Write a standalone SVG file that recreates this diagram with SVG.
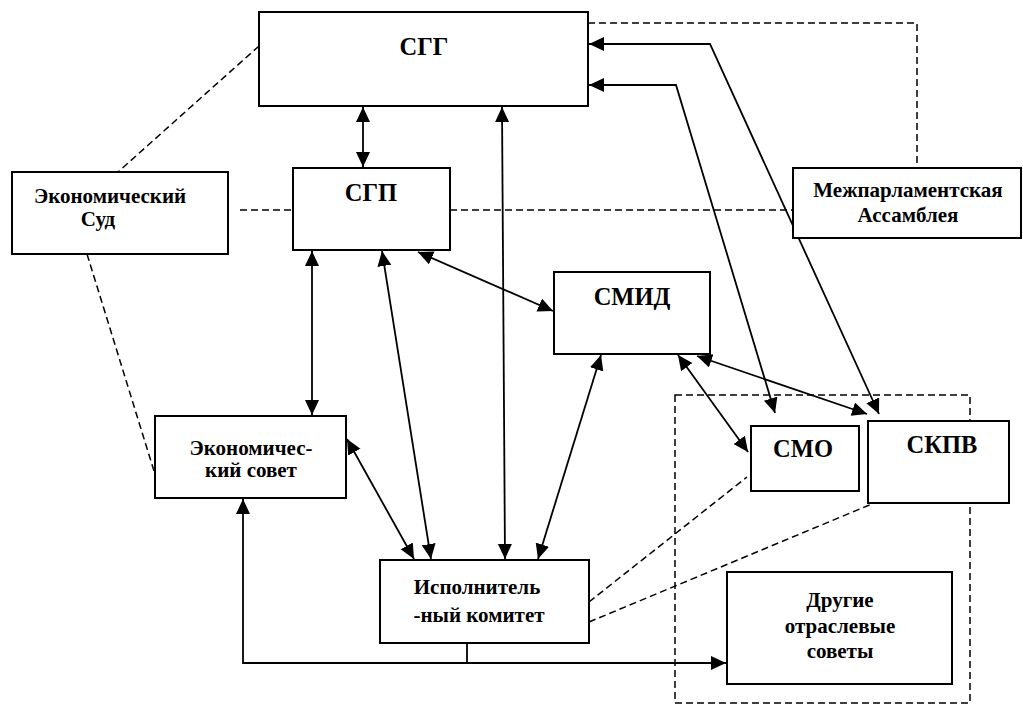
<svg xmlns="http://www.w3.org/2000/svg" width="1023" height="706" viewBox="0 0 1023 706">
<style>
.box{fill:#fff;stroke:#000;stroke-width:2}
.dash{fill:none;stroke:#000;stroke-width:1.5;stroke-dasharray:7 4}
.ln{fill:none;stroke:#000;stroke-width:1.8}
.t{font-family:"Liberation Serif","Times New Roman",serif;font-weight:bold;font-size:21px;text-anchor:middle;fill:#000}
.h{font-size:24.5px}
</style>
<defs>
<marker id="ah" markerUnits="userSpaceOnUse" markerWidth="17" markerHeight="15" refX="15" refY="7" orient="auto-start-reverse" viewBox="0 0 17 15">
<path d="M0,0 L15,7 L0,14 z" fill="#000"/>
</marker>
</defs>
<rect width="1023" height="706" fill="#fff"/>
<g id="dashed">
<rect class="dash" x="675" y="395" width="295" height="308"/>
<polyline class="dash" points="588,23 917,23 917,168"/>
<line class="dash" x1="259" y1="46" x2="118" y2="172"/>
<line class="dash" x1="87" y1="254" x2="154" y2="471"/>
<line class="dash" x1="240" y1="210" x2="293" y2="210"/>
<line class="dash" x1="450" y1="210" x2="793" y2="210"/>
<line class="dash" x1="589" y1="602" x2="747" y2="477"/>
<line class="dash" x1="589" y1="622" x2="879" y2="501"/>
</g>
<g id="connectors">
<line class="ln" x1="363" y1="107" x2="363" y2="167" marker-start="url(#ah)" marker-end="url(#ah)"/>
<line class="ln" x1="502" y1="107" x2="505" y2="559" marker-start="url(#ah)" marker-end="url(#ah)"/>
<line class="ln" x1="312" y1="251" x2="312" y2="415" marker-start="url(#ah)" marker-end="url(#ah)"/>
<line class="ln" x1="382" y1="251" x2="431" y2="559" marker-start="url(#ah)" marker-end="url(#ah)"/>
<line class="ln" x1="418" y1="252" x2="553" y2="311" marker-start="url(#ah)" marker-end="url(#ah)"/>
<line class="ln" x1="347" y1="439" x2="414" y2="559" marker-start="url(#ah)" marker-end="url(#ah)"/>
<line class="ln" x1="601" y1="355" x2="538" y2="559" marker-start="url(#ah)" marker-end="url(#ah)"/>
<line class="ln" x1="678" y1="355" x2="748" y2="452" marker-start="url(#ah)" marker-end="url(#ah)"/>
<line class="ln" x1="697" y1="356" x2="867" y2="414" marker-start="url(#ah)" marker-end="url(#ah)"/>
<polyline class="ln" points="589,44 710,44 879,414" marker-start="url(#ah)" marker-end="url(#ah)"/>
<polyline class="ln" points="589,85 676,85 775,413" marker-start="url(#ah)" marker-end="url(#ah)"/>
<polyline class="ln" points="243,499 243,663 726,663" marker-start="url(#ah)" marker-end="url(#ah)"/>
<line class="ln" x1="467" y1="643" x2="467" y2="663"/>
</g>
<g id="sgg"><rect class="box" x="259" y="12" width="329" height="94"/><text class="t h" x="424" y="55">СГГ</text></g>
<g id="ekon-sud"><rect class="box" x="12" y="172" width="216" height="82"/><text class="t" x="110" y="203">Экономический</text><text class="t" x="98" y="226">Суд</text></g>
<g id="sgp"><rect class="box" x="293" y="168" width="157" height="82"/><text class="t h" x="371" y="201">СГП</text></g>
<g id="mpa"><rect class="box" x="793" y="168" width="228" height="70"/><text class="t" x="908" y="197">Межпарламентская</text><text class="t" x="908" y="222">Ассамблея</text></g>
<g id="smid"><rect class="box" x="554" y="272" width="156" height="82"/><text class="t h" x="632" y="305">СМИД</text></g>
<g id="ekon-sovet"><rect class="box" x="155" y="416" width="191" height="82"/><text class="t" x="251" y="455">Экономичес-</text><text class="t" x="251" y="477">кий совет</text></g>
<g id="smo"><rect class="box" x="751" y="426" width="108" height="65"/><text class="t h" x="803" y="457">СМО</text></g>
<g id="skpv"><rect class="box" x="868" y="421" width="141" height="82"/><text class="t h" x="942" y="453">СКПВ</text></g>
<g id="ispolkom"><rect class="box" x="380" y="560" width="209" height="83"/><text class="t" x="477" y="594">Исполнитель</text><text class="t" x="479" y="622">-ный комитет</text></g>
<g id="drugie"><rect class="box" x="727" y="572" width="225" height="112"/><text class="t" x="840" y="607">Другие</text><text class="t" x="840" y="633">отраслевые</text><text class="t" x="840" y="658">советы</text></g>
</svg>
